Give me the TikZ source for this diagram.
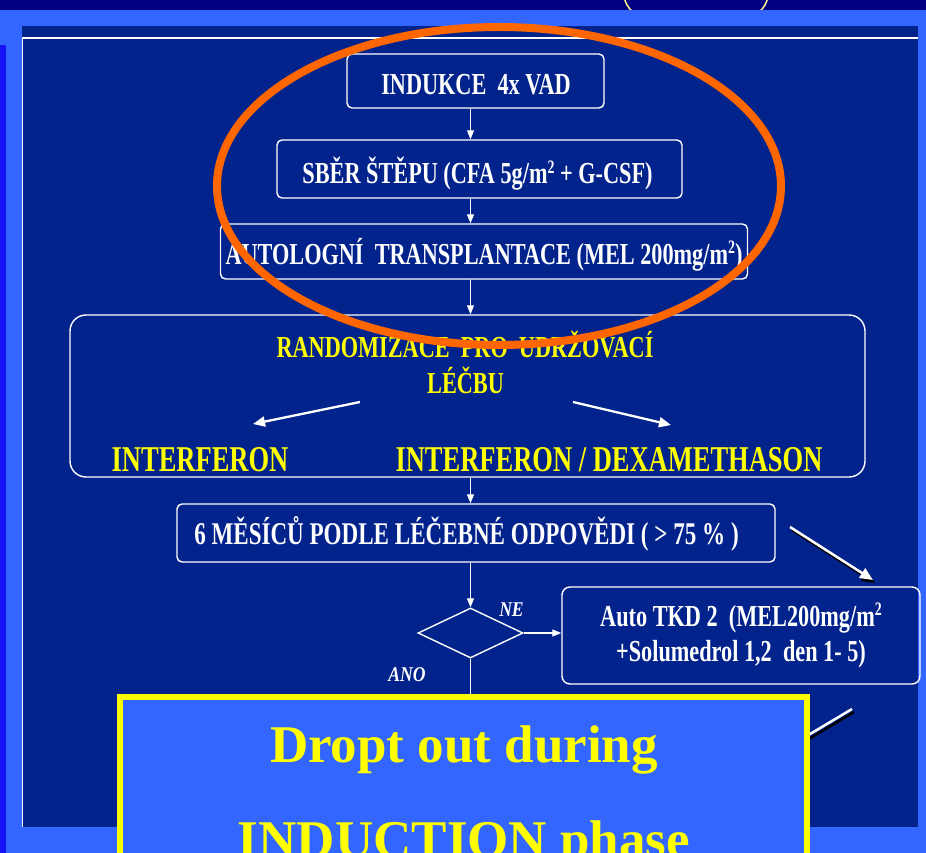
\documentclass[tikz,border=0pt]{standalone}
\usepackage{fontspec}
\usetikzlibrary{shapes.geometric,arrows.meta}
\setmainfont{Liberation Serif}
\newfontfamily\cond[FakeStretch=0.73]{Liberation Serif}
\newfontfamily\condit[FakeStretch=0.84]{Liberation Serif}
\newcommand{\sqtwo}{\raisebox{0.36em}{\fontsize{19}{20}\selectfont 2}}
\definecolor{navy}{HTML}{000080}
\definecolor{frameblue}{HTML}{3366FF}
\definecolor{edgeblue}{HTML}{1414F5}
\definecolor{panel}{RGB}{3,35,140}
\definecolor{orng}{HTML}{FF6600}
\definecolor{paleyel}{HTML}{FFFF88}
\definecolor{yel}{HTML}{FFFF00}
\begin{document}
\begin{tikzpicture}[x=1pt,y=-1pt,
  box/.style={draw=white,line width=1.4pt,rounded corners=5pt,inner sep=0pt},
  wtxt/.style={text=white,font=\cond\bfseries\fontsize{30.5}{36}\selectfont,anchor=base,inner sep=0pt},
  ytxt/.style={text=yel,font=\cond\bfseries\fontsize{30.5}{36}\selectfont,anchor=base,inner sep=0pt},
  ybig/.style={text=yel,font=\cond\bfseries\fontsize{36.3}{42}\selectfont,anchor=base,inner sep=0pt},
  itxt/.style={text=white,font=\condit\bfseries\itshape\fontsize{21}{25}\selectfont,anchor=base,inner sep=0pt},
  bigtxt/.style={text=yel,font=\bfseries\fontsize{53}{60}\selectfont,anchor=base,inner sep=0pt},
  arr/.style={draw=white,line width=1.3pt,-{Triangle[length=9pt,width=7pt]}},
  thickarr/.style={draw=white,line width=2.3pt,-{Triangle[length=12pt,width=10pt]}},
  shadowarr/.style={draw=black,fill=black,line width=2.5pt,-{Triangle[length=13pt,width=11pt]}},
  lightarr/.style={draw=white,fill=white,line width=2.5pt,-{Triangle[length=13pt,width=11pt]}}
]
\clip (0,0) rectangle (926,853);
% background
\fill[navy] (0,0) rectangle (926,853);
\draw[paleyel,line width=1.5pt] (696,-6) ellipse [x radius=72, y radius=38];
\fill[frameblue] (0,10) rectangle (926,853);
\fill[edgeblue] (0,45) rectangle (6,853);
\fill[panel] (22,26) rectangle (918,827);
\draw[white,line width=2pt] (22,38) -- (918,38);
\draw[white,line width=0.8pt] (22,38) -- (22,827);

% boxes and texts
\node[box,minimum width=257pt,minimum height=54pt] (b1) at (475.5,81) {};
\node[wtxt] (t1) at (476,95) {INDUKCE\ \ 4x VAD};
\node[box,minimum width=405pt,minimum height=58pt] (b2) at (479.5,169) {};
\node[wtxt] (t2) at (477.5,184) {SBĚR ŠTĚPU (CFA 5g/m\sqtwo{} + G-CSF)};
\node[box,minimum width=527pt,minimum height=55pt] (b3) at (484,251.5) {};
\node[wtxt] (t3) at (484,264) {AUTOLOGNÍ\ \ TRANSPLANTACE (MEL 200mg/m\sqtwo)};
\node[box,rounded corners=16pt,minimum width=795pt,minimum height=162pt] (b4) at (467.5,396) {};
\node[ytxt] (t4) at (465,357) {RANDOMIZACE\ \ PRO\ \ UDRŽOVACÍ};
\node[ytxt] (t5) at (465.5,393) {LÉČBU};
\node[ybig] (t6) at (200,471) {INTERFERON};
\node[ybig] (t7) at (609,471) {INTERFERON / DEXAMETHASON};
\node[box,minimum width=598pt,minimum height=58pt] (b5) at (476,533) {};
\node[wtxt,font=\cond\bfseries\fontsize{31.6}{36}\selectfont] (t8) at (466.5,544) {6 MĚSÍCŮ PODLE LÉČEBNÉ ODPOVĚDI ( > 75 \% )};
\node[draw=white,line width=1.4pt,diamond,minimum width=105pt,minimum height=50pt,inner sep=0pt] (d) at (470.5,633) {};
\node[itxt] (ne) at (511.5,616) {NE};
\node[itxt] (ano) at (407,681) {ANO};
\node[box,rounded corners=8pt,minimum width=358pt,minimum height=97pt] (b6) at (741,635.5) {};
\node[wtxt] (t9) at (741,626) {Auto TKD 2\ \ (MEL200mg/m\sqtwo};
\node[wtxt] (t10) at (741,661) {+Solumedrol 1,2\ \ den 1- 5)};

% connectors
\draw[arr] (b1.south -| d) -- (b2.north -| d);
\draw[arr] (b2.south -| d) -- (b3.north -| d);
\draw[arr] (b3.south -| d) -- (b4.north -| d);
\draw[arr] (b4.south -| d) -- (b5.north -| d);
\draw[arr] (b5.south -| d) -- (d.north);
\draw[arr] (d.east) -- (b6.west |- d.east);
\coordinate (dn) at (470.5,760);
\draw[white,line width=1.3pt] (d.south) -- (dn);

\coordinate (la1) at (360,402); \coordinate (la2) at (253,424);
\coordinate (ra1) at (573,402); \coordinate (ra2) at (671,425);
\draw[thickarr] (la1) -- (la2);
\draw[thickarr] (ra1) -- (ra2);

\coordinate (s1a) at (790,527); \coordinate (s1b) at (873,580);
\draw[shadowarr] ([shift={(2,3)}]s1a) -- ([shift={(2,3)}]s1b);
\draw[lightarr] (s1a) -- (s1b);
\coordinate (s2a) at (852,709); \coordinate (s2b) at (785,749);
\draw[shadowarr] ([shift={(2,3)}]s2a) -- ([shift={(2,3)}]s2b);
\draw[lightarr] (s2a) -- (s2b);

% orange highlight
\draw[orng,line width=8pt] (499,186) ellipse [x radius=282, y radius=159];

% callout box
\draw[yel,line width=6pt,fill=frameblue] (120,697) rectangle (807,880);
\node[bigtxt] (y1) at (464,762) {Dropt out during};
\node[bigtxt] (y2) at (464,857) {INDUCTION phase};
\end{tikzpicture}
\end{document}
